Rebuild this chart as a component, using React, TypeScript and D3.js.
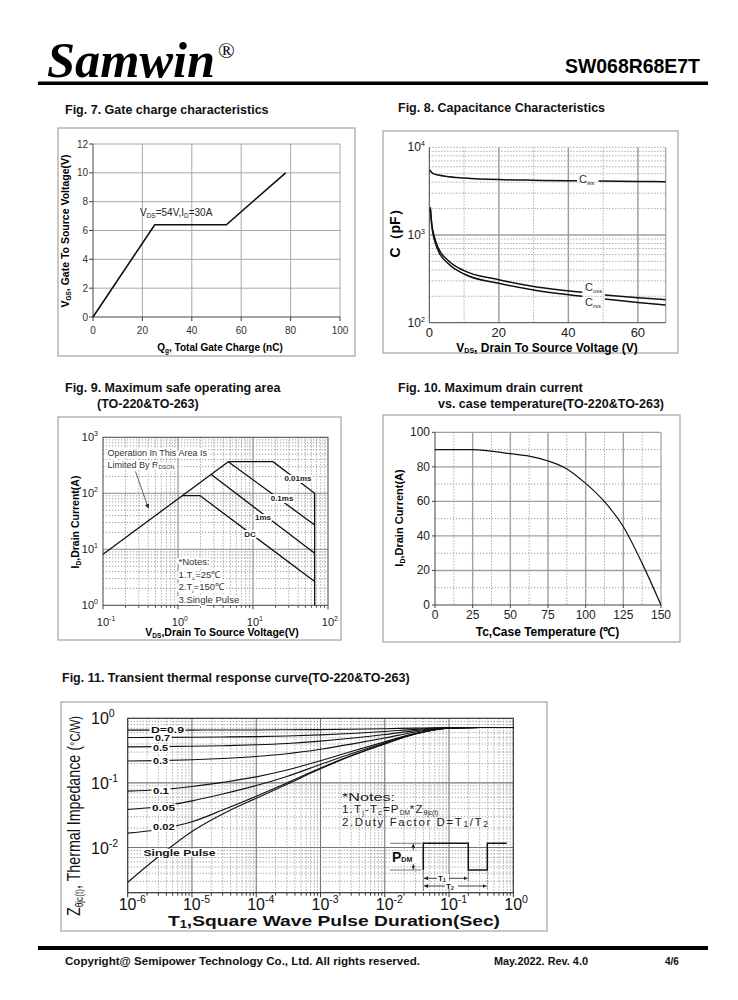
import React from "react";
import * as d3 from "d3";

const SANS = "'Liberation Sans', Arial, Helvetica, sans-serif";
const SERIF = "'Liberation Serif', 'Times New Roman', Times, serif";

/* ---------- Fig. 7 Gate charge ---------- */
const gateQ = [0, 25, 54, 78];
const gateV = [0, 6.4, 6.4, 10];
const gateXTicks = [0, 20, 40, 60, 80, 100];
const gateYTicks = [0, 2, 4, 6, 8, 10, 12];

/* ---------- Fig. 8 Capacitance ---------- */
const cissV1 = [0.1, 1, 2.6, 5, 10, 20, 30, 40, 42.5];
const cissC1 = [5510, 5050, 4830, 4650, 4470, 4280, 4210, 4160, 4150];
const cissV2 = [48.7, 60, 68];
const cissC2 = [4120, 4080, 4060];
const cossV1 = [0.3, 0.7, 1.25, 2.6, 5.5, 10, 20, 30, 44];
const cossC1 = [2070, 1350, 1026, 711, 509, 392, 309, 259, 222];
const cossV2 = [50.5, 60, 68];
const cossC2 = [207, 193, 183];
const crssV1 = [0.3, 0.7, 1.25, 2.6, 5.5, 10, 20, 30, 44];
const crssC1 = [1980, 1290, 950, 658, 470, 359, 281, 236, 200];
const crssV2 = [50.5, 60, 68];
const crssC2 = [186, 170, 159];
const capXTicks = [0, 20, 40, 60];
const capYTicks = [100, 1000, 10000];
const capYExp = ["2", "3", "4"];

/* ---------- Fig. 9 SOA ---------- */
const soaRdsV = [0.1, 4.69];
const soaRdsI = [8.15, 367];
const soa10usV = [4.69, 18.5, 66.4, 66.4];
const soa10usI = [367, 367, 100, 1];
const soa100usV = [4.69, 66.4];
const soa100usI = [367, 27.2];
const soa1msV = [2.75, 66.4];
const soa1msI = [218, 8.5];
const soaDcV = [1.13, 1.96, 66.4];
const soaDcI = [91, 91, 2.65];
const soaXTicks = [0.1, 1, 10, 100];
const soaXExp = ["-1", "0", "1", "2"];
const soaYTicks = [1, 10, 100, 1000];
const soaYExp = ["0", "1", "2", "3"];

/* ---------- Fig. 10 Id vs Tc ---------- */
const tcTemp = [0, 25, 50, 62.5, 75, 87.5, 100, 112.5, 125, 137.5, 150];
const tcCurrent = [90, 90, 87.6, 86.2, 83.4, 78.8, 70.4, 59.8, 45.3, 24.1, 0];
const tcXTicks = [0, 25, 50, 75, 100, 125, 150];
const tcYTicks = [0, 20, 40, 60, 80, 100];

/* ---------- Fig. 11 Transient thermal ---------- */
const zthT = [1e-6, 3e-6, 1e-5, 3e-5, 1e-4, 3e-4, 1e-3, 3e-3, 1e-2, 3e-2, 1e-1, 3e-1, 1];
const zthD09 = [0.655, 0.656, 0.657, 0.658, 0.66, 0.664, 0.669, 0.677, 0.69, 0.705, 0.718, 0.72, 0.72];
const zthD07 = [0.505, 0.506, 0.509, 0.514, 0.521, 0.533, 0.554, 0.582, 0.624, 0.675, 0.714, 0.72, 0.72];
const zthD05 = [0.361, 0.364, 0.369, 0.377, 0.389, 0.408, 0.443, 0.49, 0.56, 0.645, 0.71, 0.72, 0.72];
const zthD03 = [0.218, 0.221, 0.228, 0.239, 0.257, 0.283, 0.332, 0.398, 0.496, 0.615, 0.706, 0.72, 0.72];
const zthD01 = [0.0746, 0.0785, 0.088, 0.102, 0.124, 0.158, 0.221, 0.306, 0.432, 0.585, 0.702, 0.72, 0.72];
const zthD005 = [0.0388, 0.0428, 0.0528, 0.0674, 0.091, 0.126, 0.193, 0.283, 0.416, 0.578, 0.701, 0.72, 0.72];
const zthD002 = [0.0167, 0.019, 0.025, 0.038, 0.062, 0.1, 0.17, 0.265, 0.405, 0.573, 0.7, 0.72, 0.72];
const zthSingle = [0.0029, 0.0072, 0.0177, 0.033, 0.058, 0.095, 0.165, 0.26, 0.4, 0.57, 0.7, 0.72, 0.72];
const zthXTicks = [1e-6, 1e-5, 1e-4, 1e-3, 1e-2, 1e-1, 1];
const zthXExp = ["-6", "-5", "-4", "-3", "-2", "-1", "0"];
const zthYTicks = [0.01, 0.1, 1];
const zthYExp = ["-2", "-1", "0"];

function pathOf(xs: number[], ys: number[], sx: any, sy: any, curve: any = d3.curveLinear) {
  return (
    d3
      .line<number>()
      .x((d) => sx(d))
      .y((_, i) => sy(ys[i]))
      .curve(curve)(xs) || ""
  );
}

function minorLog(lo: number, hi: number) {
  const out: number[] = [];
  for (let e = lo; e < hi; e++) for (let k = 2; k <= 9; k++) out.push(k * Math.pow(10, e));
  return out;
}

const DOT = "1.2,1.8";
const GRID = "#9a9a9a";
const FRAME = "#444";
const INK = "#111";

export default function App() {
  /* scales */
  const x7 = d3.scaleLinear().domain([0, 100]).range([93, 340]);
  const y7 = d3.scaleLinear().domain([0, 12]).range([317, 144]);

  const x8 = d3.scaleLinear().domain([0, 68]).range([429.3, 665.7]);
  const y8 = d3.scaleLog().domain([100, 10000]).range([322.7, 147.3]);

  const x9 = d3.scaleLog().domain([0.1, 100]).range([103, 328]);
  const y9 = d3.scaleLog().domain([1, 1000]).range([605.3, 437.3]);

  const x10 = d3.scaleLinear().domain([0, 150]).range([435, 661]);
  const y10 = d3.scaleLinear().domain([0, 100]).range([605, 432.3]);

  const x11 = d3.scaleLog().domain([1e-6, 1]).range([127.7, 513.3]);
  const y11 = d3.scaleLog().domain([0.002, 1]).range([892.7, 718.3]);

  const halo = { stroke: "#fff", strokeWidth: 4, paintOrder: "stroke" as any, strokeLinejoin: "round" as any };

  const box = (x: number, y: number, w: number, h: number) => (
    <rect x={x} y={y} width={w} height={h} fill="#fff" stroke="#b5b5b5" strokeWidth={1.5} />
  );

  const capMinorY = minorLog(2, 4);
  const soaMinorX = minorLog(-1, 2);
  const soaMinorY = minorLog(0, 3);
  const zthMinorX = minorLog(-6, 0);
  const zthMinorY = minorLog(-3, 0).filter((v) => v > 0.0021);

  const zthCurves = [zthD09, zthD07, zthD05, zthD03, zthD01, zthD005, zthD002, zthSingle];
  const zthLabels = [
    { t: "D=0.9", x: 151, y: 732.8, w: 33 },
    { t: "0.7", x: 155, y: 740.8, w: 15 },
    { t: "0.5", x: 153, y: 751, w: 15 },
    { t: "0.3", x: 153, y: 763.7, w: 15 },
    { t: "0.1", x: 153, y: 793.7, w: 16 },
    { t: "0.05", x: 152, y: 810.7, w: 23 },
    { t: "0.02", x: 153, y: 830.3, w: 21.7 },
    { t: "Single Pulse", x: 143.5, y: 855.7, w: 72 },
  ];

  return (
    <svg
      width={738}
      height={1000}
      viewBox="0 0 738 1000"
      style={{ position: "absolute", left: 0, top: 0, background: "#fff" }}
      fontFamily={SANS}
    >
      <defs>
        <marker id="ah" viewBox="0 0 10 10" refX="10" refY="5" markerWidth="5" markerHeight="5" orient="auto-start-reverse">
          <path d="M0,0 L10,5 L0,10 z" fill="#222" />
        </marker>
      </defs>
      <rect width={738} height={1000} fill="#fff" />

      {/* ---------- Header ---------- */}
      <text x={47} y={77} fontFamily={SERIF} fontStyle="italic" fontWeight="bold" fontSize={50} textLength={168} lengthAdjust="spacingAndGlyphs">
        Samwin
      </text>
      <text x={218} y={58} fontFamily={SERIF} fontSize={22}>®</text>
      <text x={565} y={73} fontWeight="bold" fontSize={20} textLength={135} lengthAdjust="spacingAndGlyphs">
        SW068R68E7T
      </text>
      <rect x={38} y={81.5} width={670} height={3.5} fill="#000" />

      {/* ---------- Titles ---------- */}
      <g fontWeight="bold" fontSize={12.5} fill="#111">
        <text x={65} y={114}>Fig. 7. Gate charge characteristics</text>
        <text x={398} y={112}>Fig. 8. Capacitance Characteristics</text>
        <text x={65} y={392}>Fig. 9. Maximum safe operating area</text>
        <text x={97} y={408}>(TO-220&amp;TO-263)</text>
        <text x={398} y={392}>Fig. 10. Maximum drain current</text>
        <text x={438} y={408}>vs. case temperature(TO-220&amp;TO-263)</text>
        <text x={62} y={682}>Fig. 11. Transient thermal response curve(TO-220&amp;TO-263)</text>
      </g>

      {/* ---------- Fig. 7 ---------- */}
      {box(58, 128, 297, 228)}
      <g>
        {gateXTicks.slice(1).map((t) => (
          <line key={"gx" + t} x1={x7(t)} x2={x7(t)} y1={y7(12)} y2={y7(0)} stroke="#a8a8a8" strokeWidth={1} />
        ))}
        {gateYTicks.slice(1).map((t) => (
          <line key={"gy" + t} x1={x7(0)} x2={x7(100)} y1={y7(t)} y2={y7(t)} stroke="#a8a8a8" strokeWidth={1} />
        ))}
        <line x1={x7(0)} x2={x7(0)} y1={y7(12)} y2={y7(0)} stroke={FRAME} />
        <line x1={x7(0)} x2={x7(100)} y1={y7(0)} y2={y7(0)} stroke={FRAME} />
        {gateXTicks.map((t) => (
          <g key={"gxt" + t}>
            <line x1={x7(t)} x2={x7(t)} y1={y7(0)} y2={y7(0) + 4} stroke={FRAME} />
            <text x={x7(t)} y={334} textAnchor="middle" fontSize={10} fill="#333">{t}</text>
          </g>
        ))}
        {gateYTicks.map((t) => (
          <g key={"gyt" + t}>
            <line x1={x7(0) - 4} x2={x7(0)} y1={y7(t)} y2={y7(t)} stroke={FRAME} />
            <text x={88} y={y7(t) + 3.5} textAnchor="end" fontSize={10} fill="#333">{t}</text>
          </g>
        ))}
        <path d={pathOf(gateQ, gateV, x7, y7)} fill="none" stroke={INK} strokeWidth={1.6} />
        <text x={140} y={216} fontSize={10} fill="#222">
          V<tspan fontSize={6.5} dy={2}>DS</tspan>
          <tspan dy={-2}>=54V,I</tspan>
          <tspan fontSize={6.5} dy={2}>D</tspan>
          <tspan dy={-2}>=30A</tspan>
        </text>
        <text x={220} y={351} textAnchor="middle" fontWeight="bold" fontSize={10}>
          Q<tspan fontSize={6.5} dy={2}>g</tspan>
          <tspan dy={-2}>, Total Gate Charge (nC)</tspan>
        </text>
        <text transform="translate(69,231) rotate(-90)" textAnchor="middle" fontWeight="bold" fontSize={10.5}>
          V<tspan fontSize={6.5} dy={2}>GS</tspan>
          <tspan dy={-2}>,  Gate To Source Voltage(V)</tspan>
        </text>
      </g>

      {/* ---------- Fig. 8 ---------- */}
      {box(383, 131, 295, 222)}
      <g>
        {[10, 30, 50].map((v) => (
          <line key={"cx" + v} x1={x8(v)} x2={x8(v)} y1={y8(10000)} y2={y8(100)} stroke={GRID} strokeDasharray={DOT} />
        ))}
        {capMinorY.map((v) => (
          <line key={"cy" + v} x1={x8(0)} x2={x8(68)} y1={y8(v)} y2={y8(v)} stroke={GRID} strokeDasharray={DOT} />
        ))}
        {[20, 40, 60].map((v) => (
          <line key={"cxs" + v} x1={x8(v)} x2={x8(v)} y1={y8(10000)} y2={y8(100)} stroke="#a0a0a0" strokeWidth={1.5} />
        ))}
        <line x1={x8(0)} x2={x8(68)} y1={y8(1000)} y2={y8(1000)} stroke="#a0a0a0" strokeWidth={1.3} />
        <line x1={x8(0)} x2={x8(68)} y1={y8(10000)} y2={y8(10000)} stroke={GRID} strokeDasharray={DOT} />
        <line x1={x8(68)} x2={x8(68)} y1={y8(10000)} y2={y8(100)} stroke="#a0a0a0" strokeWidth={1.2} />
        <line x1={x8(0)} x2={x8(0)} y1={y8(10000)} y2={y8(100)} stroke={FRAME} />
        <line x1={x8(0)} x2={x8(68)} y1={y8(100)} y2={y8(100)} stroke={FRAME} />
        {capXTicks.map((t) => (
          <text key={"cxt" + t} x={x8(t)} y={337} textAnchor="middle" fontSize={13} fill="#222">{t}</text>
        ))}
        {capYTicks.map((t, i) => (
          <text key={"cyt" + t} x={425} y={y8(t) + 4} textAnchor="end" fontSize={12} fill="#222">
            10<tspan dy={-5} fontSize={7.5}>{capYExp[i]}</tspan>
          </text>
        ))}
        <path d={pathOf(cissV1, cissC1, x8, y8, d3.curveMonotoneX)} fill="none" stroke={INK} strokeWidth={1.5} />
        <path d={pathOf(cissV2, cissC2, x8, y8, d3.curveMonotoneX)} fill="none" stroke={INK} strokeWidth={1.5} />
        <path d={pathOf(cossV1, cossC1, x8, y8, d3.curveMonotoneX)} fill="none" stroke={INK} strokeWidth={1.5} />
        <path d={pathOf(cossV2, cossC2, x8, y8, d3.curveMonotoneX)} fill="none" stroke={INK} strokeWidth={1.5} />
        <path d={pathOf(crssV1, crssC1, x8, y8, d3.curveMonotoneX)} fill="none" stroke={INK} strokeWidth={1.5} />
        <path d={pathOf(crssV2, crssC2, x8, y8, d3.curveMonotoneX)} fill="none" stroke={INK} strokeWidth={1.5} />
        <text x={579} y={183} fontSize={11} fill="#333">
          C<tspan fontSize={6} dy={1.5}>iss</tspan>
        </text>
        <text x={585} y={291} fontSize={11} fill="#333">
          C<tspan fontSize={6} dy={1.5}>oss</tspan>
        </text>
        <text x={585} y={306} fontSize={11} fill="#333">
          C<tspan fontSize={6} dy={1.5}>rss</tspan>
        </text>
        <text x={547} y={351.5} textAnchor="middle" fontWeight="bold" fontSize={12}>
          V<tspan fontSize={7} dy={1.5}>DS</tspan>
          <tspan dy={-1.5}>, Drain To Source Voltage (V)</tspan>
        </text>
        <text transform="translate(400,230) rotate(-90)" textAnchor="middle" fontWeight="bold" fontSize={14}>
          C（pF）
        </text>
      </g>

      {/* ---------- Fig. 9 ---------- */}
      {box(58, 417, 283, 223)}
      <g>
        {soaMinorX.map((v) => (
          <line key={"sx" + v} x1={x9(v)} x2={x9(v)} y1={y9(1000)} y2={y9(1)} stroke={GRID} strokeDasharray={DOT} />
        ))}
        {soaMinorY.map((v) => (
          <line key={"sy" + v} x1={x9(0.1)} x2={x9(100)} y1={y9(v)} y2={y9(v)} stroke={GRID} strokeDasharray={DOT} />
        ))}
        {[1, 10].map((v) => (
          <line key={"sxs" + v} x1={x9(v)} x2={x9(v)} y1={y9(1000)} y2={y9(1)} stroke="#8a8a8a" strokeWidth={1.1} />
        ))}
        {[10, 100].map((v) => (
          <line key={"sys" + v} x1={x9(0.1)} x2={x9(100)} y1={y9(v)} y2={y9(v)} stroke="#8a8a8a" strokeWidth={1.1} />
        ))}
        <rect x={x9(0.1)} y={y9(1000)} width={x9(100) - x9(0.1)} height={y9(1) - y9(1000)} fill="none" stroke={FRAME} />
        {soaMinorX.concat(soaXTicks).map((v) => (
          <line key={"sxt" + v} x1={x9(v)} x2={x9(v)} y1={y9(1)} y2={y9(1) + (soaXTicks.includes(v) ? 4 : 2.5)} stroke={FRAME} />
        ))}
        {soaXTicks.map((t, i) => (
          <text key={"sxl" + t} x={x9(t) - 6.2} y={626} fontSize={11} fill="#222">
            10<tspan dy={-5} fontSize={7}>{soaXExp[i]}</tspan>
          </text>
        ))}
        {soaYTicks.map((t, i) => (
          <text key={"syl" + t} x={98} y={y9(t) + 4} textAnchor="end" fontSize={11} fill="#222">
            10<tspan dy={-5} fontSize={7}>{soaYExp[i]}</tspan>
          </text>
        ))}
        <path d={pathOf(soaRdsV, soaRdsI, x9, y9)} fill="none" stroke={INK} strokeWidth={1.3} />
        <path d={pathOf(soa10usV, soa10usI, x9, y9)} fill="none" stroke={INK} strokeWidth={1.3} />
        <path d={pathOf(soa100usV, soa100usI, x9, y9)} fill="none" stroke={INK} strokeWidth={1.3} />
        <path d={pathOf(soa1msV, soa1msI, x9, y9)} fill="none" stroke={INK} strokeWidth={1.3} />
        <path d={pathOf(soaDcV, soaDcI, x9, y9)} fill="none" stroke={INK} strokeWidth={1.3} />
        <g fontSize={9} fill="#333" {...halo}>
          <text x={107.5} y={456}>Operation In This Area Is</text>
          <text x={107.5} y={467.5}>
            Limited By R<tspan fontSize={5.5} dy={1.5}>DSON</tspan>
          </text>
        </g>
        <line x1={135.5} y1={471.5} x2={148.5} y2={508.5} stroke="#555" strokeWidth={0.9} markerEnd="url(#ah)" />
        <g fontSize={8} fontWeight="bold" fill="#222" textAnchor="middle" {...halo}>
          <text x={298} y={481}>0.01ms</text>
          <text x={282} y={501}>0.1ms</text>
          <text x={263} y={520}>1ms</text>
          <text x={250} y={537}>DC</text>
        </g>
        <g fontSize={9.5} fill="#333" {...halo}>
          <text x={178.5} y={564.5}>*Notes:</text>
          <text x={178.5} y={578}>
            1.T<tspan fontSize={6} dy={1.5}>c</tspan>
            <tspan dy={-1.5}>=25℃</tspan>
          </text>
          <text x={178.5} y={590}>
            2.T<tspan fontSize={6} dy={1.5}>j</tspan>
            <tspan dy={-1.5}>=150℃</tspan>
          </text>
          <text x={178.5} y={602.5}>3.Single Pulse</text>
        </g>
        <text x={222} y={636} textAnchor="middle" fontWeight="bold" fontSize={10.5}>
          V<tspan fontSize={6.5} dy={1.5}>DS</tspan>
          <tspan dy={-1.5}>,Drain To Source Voltage(V)</tspan>
        </text>
        <text transform="translate(79,522) rotate(-90)" textAnchor="middle" fontWeight="bold" fontSize={10.5}>
          I<tspan fontSize={6.5} dy={1.5}>D</tspan>
          <tspan dy={-1.5}>,Drain Current(A)</tspan>
        </text>
      </g>

      {/* ---------- Fig. 10 ---------- */}
      {box(383, 415, 297, 227)}
      <g>
        {[12.5, 37.5, 62.5, 87.5, 112.5, 137.5].map((v) => (
          <line key={"tx" + v} x1={x10(v)} x2={x10(v)} y1={y10(100)} y2={y10(0)} stroke={GRID} strokeDasharray={DOT} />
        ))}
        {[10, 30, 50, 70, 90].map((v) => (
          <line key={"ty" + v} x1={x10(0)} x2={x10(150)} y1={y10(v)} y2={y10(v)} stroke={GRID} strokeDasharray={DOT} />
        ))}
        {[25, 50, 75, 100, 125].map((v) => (
          <line key={"txs" + v} x1={x10(v)} x2={x10(v)} y1={y10(100)} y2={y10(0)} stroke="#a0a0a0" strokeWidth={1.4} />
        ))}
        {[20, 40, 60, 80].map((v) => (
          <line key={"tys" + v} x1={x10(0)} x2={x10(150)} y1={y10(v)} y2={y10(v)} stroke="#a0a0a0" strokeWidth={1.4} />
        ))}
        <line x1={x10(0)} x2={x10(150)} y1={y10(100)} y2={y10(100)} stroke="#a0a0a0" strokeWidth={1.2} />
        <line x1={x10(150)} x2={x10(150)} y1={y10(100)} y2={y10(0)} stroke="#a0a0a0" strokeWidth={1.2} />
        <line x1={x10(0)} x2={x10(0)} y1={y10(100)} y2={y10(0)} stroke={FRAME} />
        <line x1={x10(0)} x2={x10(150)} y1={y10(0)} y2={y10(0)} stroke={FRAME} />
        {tcXTicks.map((t) => (
          <g key={"txt" + t}>
            <line x1={x10(t)} x2={x10(t)} y1={y10(0)} y2={y10(0) + 3} stroke={FRAME} />
            <text x={x10(t)} y={619} textAnchor="middle" fontSize={12} fill="#222">{t}</text>
          </g>
        ))}
        {tcYTicks.map((t) => (
          <g key={"tyt" + t}>
            <line x1={x10(0) - 3} x2={x10(0)} y1={y10(t)} y2={y10(t)} stroke={FRAME} />
            <text x={430} y={y10(t) + 4} textAnchor="end" fontSize={12} fill="#222">{t}</text>
          </g>
        ))}
        <path d={pathOf(tcTemp, tcCurrent, x10, y10, d3.curveMonotoneX)} fill="none" stroke={INK} strokeWidth={1.2} />
        <text x={547.5} y={636} textAnchor="middle" fontWeight="bold" fontSize={12}>Tc,Case Temperature (℃)</text>
        <text transform="translate(403,518) rotate(-90)" textAnchor="middle" fontWeight="bold" fontSize={11}>
          I<tspan fontSize={7} dy={1.5}>D</tspan>
          <tspan dy={-1.5}>,Drain Current(A)</tspan>
        </text>
      </g>

      {/* ---------- Fig. 11 ---------- */}
      {box(61, 702, 486, 229)}
      <g>
        {zthMinorX.map((v) => (
          <line key={"zx" + v} x1={x11(v)} x2={x11(v)} y1={y11(1)} y2={y11(0.002)} stroke={GRID} strokeDasharray={DOT} />
        ))}
        {zthMinorY.map((v) => (
          <line key={"zy" + v} x1={x11(1e-6)} x2={x11(1)} y1={y11(v)} y2={y11(v)} stroke={GRID} strokeDasharray={DOT} />
        ))}
        {zthXTicks.slice(1, -1).map((v) => (
          <line key={"zxs" + v} x1={x11(v)} x2={x11(v)} y1={y11(1)} y2={y11(0.002)} stroke="#777" strokeWidth={1.1} />
        ))}
        {[0.01, 0.1].map((v) => (
          <line key={"zys" + v} x1={x11(1e-6)} x2={x11(1)} y1={y11(v)} y2={y11(v)} stroke="#777" strokeWidth={1.1} />
        ))}
        <rect x={x11(1e-6)} y={y11(1)} width={x11(1) - x11(1e-6)} height={y11(0.002) - y11(1)} fill="none" stroke="#333" strokeWidth={1.2} />
        {zthMinorX.concat(zthXTicks).map((v) => (
          <line key={"zxt" + v} x1={x11(v)} x2={x11(v)} y1={y11(0.002)} y2={y11(0.002) + (zthXTicks.includes(v) ? 4.5 : 3)} stroke="#333" />
        ))}
        {zthXTicks.map((t, i) => (
          <text key={"zxl" + t} x={x11(t) - 9} y={910} fontSize={16} fill="#111">
            10<tspan dy={-7} fontSize={10.5}>{zthXExp[i]}</tspan>
          </text>
        ))}
        {zthYTicks.map((t, i) => (
          <text key={"zyl" + t} x={91} y={y11(t) + 6} fontSize={16} fill="#111">
            10<tspan dy={-7} fontSize={10.5}>{zthYExp[i]}</tspan>
          </text>
        ))}
        {zthCurves.map((c, i) => (
          <path key={"zc" + i} d={pathOf(zthT, c, x11, y11, d3.curveMonotoneX)} fill="none" stroke={INK} strokeWidth={1.1} />
        ))}
        {zthLabels.map((l) => (
          <g key={l.t}>
            <rect x={l.x - 1.5} y={l.y - 7} width={l.w + 3} height={8.3} fill="#fff" />
            <text x={l.x} y={l.y} fontSize={8.3} fontWeight="bold" fill="#111" textLength={l.w} lengthAdjust="spacingAndGlyphs">
              {l.t}
            </text>
          </g>
        ))}
        <g fontSize={11.5} fill="#222">
          <text x={342} y={800.5} textLength={53} lengthAdjust="spacingAndGlyphs">*Notes:</text>
          <text x={342} y={813} letterSpacing={1.2}>
            1.T<tspan fontSize={7} dy={1.5}>j</tspan>
            <tspan dy={-1.5}>-T</tspan>
            <tspan fontSize={7} dy={1.5}>c</tspan>
            <tspan dy={-1.5}>=P</tspan>
            <tspan fontSize={6.5} dy={1.5} letterSpacing={0}>DM</tspan>
            <tspan dy={-1.5}>*Z</tspan>
            <tspan fontSize={6.5} dy={1.5} letterSpacing={0}>θjc(t)</tspan>
          </text>
          <text x={342} y={825.5} letterSpacing={1.6}>
            2.Duty Factor D=T<tspan fontSize={8.5} dy={1}>1</tspan>
            <tspan dy={-1}>/T</tspan>
            <tspan fontSize={8.5} dy={1}>2</tspan>
          </text>
        </g>
        {/* pulse diagram */}
        <g stroke="#111" fill="none">
          <path d="M423.3,870 V843.3 H468.3 V870 H487.3 V843.3 H506.7" strokeWidth={1.5} />
          <line x1={390} x2={421.5} y1={843.3} y2={843.3} strokeWidth={0.8} stroke="#555" />
          <line x1={390} x2={421.5} y1={870} y2={870} strokeWidth={0.8} stroke="#555" />
          <line x1={413.3} x2={413.3} y1={850} y2={843.8} strokeWidth={0.8} markerEnd="url(#ah)" />
          <line x1={413.3} x2={413.3} y1={864} y2={869.5} strokeWidth={0.8} markerEnd="url(#ah)" />
          <line x1={423.3} x2={423.3} y1={870} y2={891} strokeWidth={0.7} stroke="#555" />
          <line x1={468.3} x2={468.3} y1={870} y2={881} strokeWidth={0.7} stroke="#555" />
          <line x1={487.3} x2={487.3} y1={870} y2={890} strokeWidth={0.7} stroke="#555" strokeDasharray="1.5,1" />
          <line x1={424} x2={467.5} y1={878.3} y2={878.3} strokeWidth={0.8} markerStart="url(#ah)" markerEnd="url(#ah)" />
          <line x1={424} x2={486.5} y1={886} y2={886} strokeWidth={0.8} markerStart="url(#ah)" markerEnd="url(#ah)" />
        </g>
        <rect x={437} y={874} width={12} height={7} fill="#fff" />
        <rect x={445} y={881.5} width={13} height={7.5} fill="#fff" />
        <text x={438} y={880.5} fontSize={8} fontWeight="bold" fill="#111">
          T<tspan fontSize={5} dy={1}>1</tspan>
        </text>
        <text x={446} y={888.5} fontSize={8} fontWeight="bold" fill="#111">
          T<tspan fontSize={5} dy={1}>2</tspan>
        </text>
        <rect x={391} y={851} width={30} height={12} fill="#fff" />
        <text x={392} y={862} fontSize={14} fontWeight="bold" fill="#111">
          P<tspan fontSize={7}>DM</tspan>
        </text>
        <text x={168} y={925.5} fontWeight="bold" fontSize={15} fill="#111" textLength={332} lengthAdjust="spacingAndGlyphs">
          T<tspan fontSize={10} dy={2}>1</tspan>
          <tspan dy={-2}>,Square Wave Pulse Duration(Sec)</tspan>
        </text>
        <text transform="translate(80,816) rotate(-90)" textAnchor="middle" fontSize={19} fill="#111" textLength={200} lengthAdjust="spacingAndGlyphs">
          Z<tspan fontSize={11} dy={3}>θjc(t)</tspan>
          <tspan dy={-3}>, Thermal Impedance (</tspan>
          <tspan fontSize={15}>°C/W)</tspan>
        </text>
      </g>

      {/* ---------- Footer ---------- */}
      <rect x={38} y={946} width={670} height={4} fill="#000" />
      <g fontWeight="bold" fontSize={11} fill="#111">
        <text x={65} y={965} textLength={355} lengthAdjust="spacingAndGlyphs">
          Copyright@ Semipower Technology Co., Ltd. All rights reserved.
        </text>
        <text x={494} y={965} fontSize={10} textLength={94} lengthAdjust="spacingAndGlyphs">May.2022. Rev. 4.0</text>
        <text x={665} y={965} fontSize={10}>4/6</text>
      </g>
    </svg>
  );
}
